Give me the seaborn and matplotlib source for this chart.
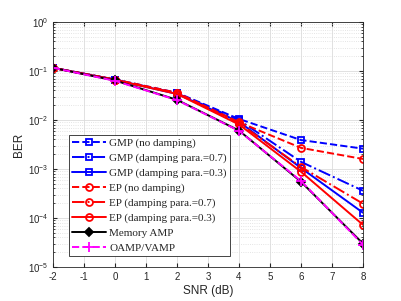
import numpy as np
import pandas as pd
import matplotlib
matplotlib.use("Agg")
import matplotlib.pyplot as plt
import seaborn as sns
from matplotlib.ticker import LogLocator, NullFormatter

# Daten
snr = [-2, 0, 2, 4, 6, 8]
gmp_nodamp = [0.116, 0.067, 0.036, 0.0105, 0.0039, 0.0026]
gmp_07 = [0.116, 0.067, 0.035, 0.0100, 0.0014, 0.00036]
gmp_03 = [0.116, 0.066, 0.034, 0.0092, 0.00105, 0.000128]
ep_nodamp = [0.116, 0.067, 0.036, 0.0090, 0.0027, 0.0016]
ep_07 = [0.116, 0.066, 0.035, 0.0086, 0.0011, 0.000196]
ep_03 = [0.116, 0.066, 0.034, 0.0081, 0.00088, 0.0000725]
mamp = [0.116, 0.064, 0.0258, 0.0061, 0.00055, 0.0000300]
oamp = [0.116, 0.063, 0.0255, 0.0060, 0.00057, 0.0000285]

labels = ["GMP (no damping)", "GMP (damping para.=0.7)", "GMP (damping para.=0.3)",
          "EP (no damping)", "EP (damping para.=0.7)", "EP (damping para.=0.3)",
          "Memory AMP", "OAMP/VAMP"]
values = [gmp_nodamp, gmp_07, gmp_03, ep_nodamp, ep_07, ep_03, mamp, oamp]

rows = []
for lab, vals in zip(labels, values):
    for s, v in zip(snr, vals):
        rows.append({"SNR": s, "BER": v, "Algo": lab})
df = pd.DataFrame(rows)

stile = {
    "GMP (no damping)": dict(color="#0000ff", ls="--", marker="s", mfc="none"),
    "GMP (damping para.=0.7)": dict(color="#0000ff", ls="-.", marker="s", mfc="none"),
    "GMP (damping para.=0.3)": dict(color="#0000ff", ls="-", marker="s", mfc="none"),
    "EP (no damping)": dict(color="#ff0000", ls="--", marker="o", mfc="none"),
    "EP (damping para.=0.7)": dict(color="#ff0000", ls="-.", marker="o", mfc="none"),
    "EP (damping para.=0.3)": dict(color="#ff0000", ls="-", marker="o", mfc="none"),
    "Memory AMP": dict(color="black", ls="-", marker="D", mfc="black"),
    "OAMP/VAMP": dict(color="#ff00ff", ls="--", marker="+", mfc="#ff00ff"),
}
groesse = {"s": 4.5, "o": 5, "D": 4, "+": 7}

sns.set_style("ticks")
plt.rcParams["font.family"] = ["Liberation Sans", "DejaVu Sans"]
plt.rcParams["axes.unicode_minus"] = False

fig = plt.figure(figsize=(4.02, 3.01), dpi=100)
ax = fig.add_axes([53 / 402, 34 / 301, 310 / 402, 245 / 301])

for lab in labels:
    st = stile[lab]
    sub = df[df["Algo"] == lab]
    sns.lineplot(data=sub, x="SNR", y="BER", ax=ax, label=lab, color=st["color"],
                 linestyle=st["ls"], marker=st["marker"], markersize=groesse[st["marker"]],
                 markerfacecolor=st["mfc"], markeredgecolor=st["color"],
                 markeredgewidth=1.3, linewidth=1.4)

ax.set_yscale("log")
ax.set_xlim(-2, 8)
ax.set_ylim(1e-5, 1)
ax.set_xticks(range(-2, 9))
ax.yaxis.set_major_locator(LogLocator(base=10, numticks=10))
ax.yaxis.set_minor_locator(LogLocator(base=10, subs=np.arange(2, 10), numticks=10))
ax.yaxis.set_minor_formatter(NullFormatter())
ax.grid(True, which="major", color="#dcdcdc", linewidth=0.6)
ax.grid(True, which="minor", axis="y", color="#dcdcdc", linestyle=":", linewidth=0.6)
ax.set_axisbelow(True)
ax.tick_params(which="both", direction="in", top=True, right=True, labelsize=7, colors="#262626")
ax.tick_params(which="major", length=3)
ax.tick_params(which="minor", length=1.5)
for sp in ax.spines.values():
    sp.set_color("#262626")
    sp.set_linewidth(0.6)
ax.set_xlabel("SNR (dB)", fontsize=8.5, labelpad=2)
ax.set_ylabel("BER", fontsize=8.5, labelpad=2)

leg = ax.legend(loc="upper left", bbox_to_anchor=(0.052, 0.54), borderaxespad=0,
                prop={"family": "Liberation Serif", "size": 8}, handlelength=3.0,
                labelspacing=0.45, fancybox=False, edgecolor="#262626", framealpha=1,
                borderpad=0.3, handletextpad=0.3)
leg.get_frame().set_linewidth(0.6)

fig.savefig("out.png", dpi=100)
